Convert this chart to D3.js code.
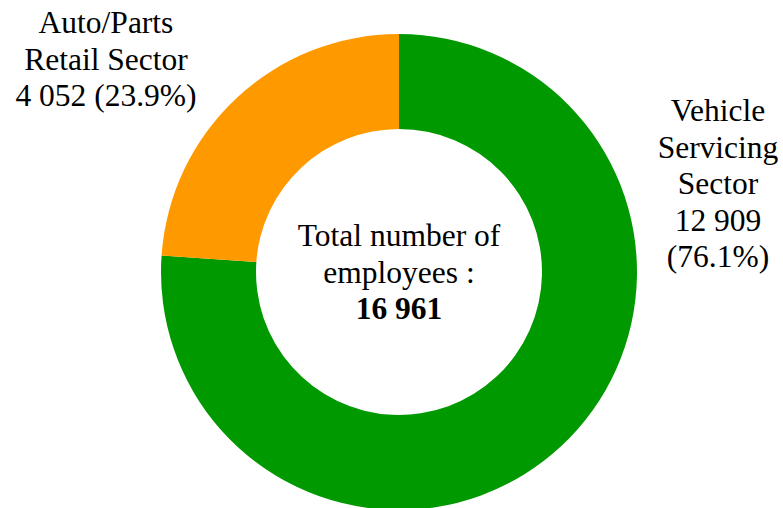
<!DOCTYPE html>
<html>
<head>
<meta charset="utf-8">
<script src="https://cdn.jsdelivr.net/npm/d3@7"></script>
<style>
  html, body { margin: 0; padding: 0; background: #ffffff; }
  svg { display: block; }
</style>
</head>
<body>
<script>
// Employment by sector
const sectors = ["Vehicle Servicing Sector", "Auto/Parts Retail Sector"];
const employees = [12909, 4052];
const sectorColors = ["#009900", "#ff9900"];
const labelLines = [
  ["Vehicle", "Servicing", "Sector"],
  ["Auto/Parts", "Retail Sector"]
];
const centerLines = ["Total number of", "employees :"];

const width = 783, height = 508;
const cx = 399, cy = 272;
const outerR = 238, innerR = 143;
const fontSize = 31.5, lineH = 36.5;
const fontFamily = "'Liberation Serif'";

const fmt = n => d3.format(",")(n).replace(/,/g, " ");
const total = d3.sum(employees);
const pct = v => (v / total * 100).toFixed(1) + "%";

const svg = d3.select("body").append("svg")
  .attr("width", width).attr("height", height);

const g = svg.append("g").attr("transform", `translate(${cx},${cy})`);

const pie = d3.pie().sort(null).value(d => d.value);
const arc = d3.arc().innerRadius(innerR).outerRadius(outerR);

const data = sectors.map((s, i) => ({ name: s, value: employees[i], color: sectorColors[i] }));

g.selectAll("path.slice")
  .data(pie(data))
  .join("path")
  .attr("class", "slice")
  .attr("d", arc)
  .attr("fill", d => d.data.color);

// Outside labels: name, count and share
const labelPos = [
  { x: 718, y: 121, lines: [...labelLines[0], fmt(employees[0]), "(" + pct(employees[0]) + ")"] },
  { x: 106, y: 33, lines: [...labelLines[1], fmt(employees[1]) + " (" + pct(employees[1]) + ")"] }
];

labelPos.forEach(lp => {
  const t = svg.append("text")
    .attr("text-anchor", "middle")
    .style("font-family", fontFamily)
    .style("font-size", fontSize + "px")
    .attr("fill", "#000");
  lp.lines.forEach((ln, i) => {
    t.append("tspan").attr("x", lp.x).attr("y", lp.y + i * lineH).text(ln);
  });
});

// Centre total
const ct = svg.append("text").attr("text-anchor", "middle")
  .style("font-family", fontFamily)
  .style("font-size", fontSize + "px")
  .attr("fill", "#000");
centerLines.forEach((ln, i) => {
  ct.append("tspan").attr("x", cx).attr("y", 246 + i * lineH).text(ln);
});
ct.append("tspan").attr("x", cx).attr("y", 246 + 2 * lineH)
  .style("font-weight", "bold").text(fmt(total));
</script>
</body>
</html>
